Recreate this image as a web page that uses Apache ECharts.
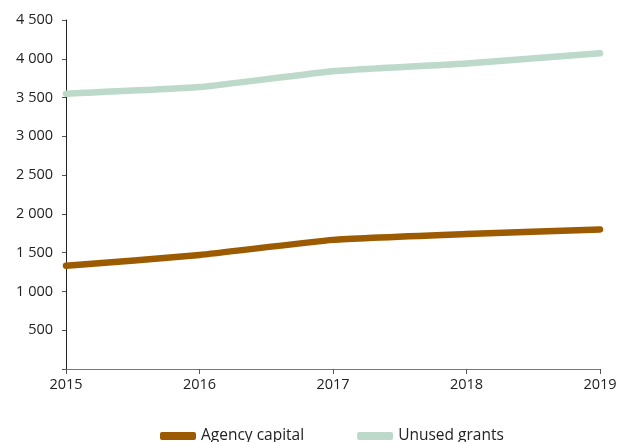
<!DOCTYPE html>
<html><head><meta charset="utf-8">
<script src="https://cdn.jsdelivr.net/npm/echarts@6/dist/echarts.min.js"></script>
<style>html,body{margin:0;padding:0;background:#fff}#c{width:624px;height:442px}</style>
</head><body><div id="c"></div>
<script>
const years = ['2015','2016','2017','2018','2019'];
const agencyCapital = [1330, 1470, 1665, 1740, 1800];
const unusedGrants = [3550, 3635, 3840, 3940, 4070];
const yTicks = [0, 500, 1000, 1500, 2000, 2500, 3000, 3500, 4000, 4500];

const chart = echarts.init(document.getElementById('c'));
const font = '"Open Sans", "Noto Sans", sans-serif';
chart.setOption({
  animation: false,
  textStyle: { fontFamily: font },
  grid: { left: 66, right: 24, top: 20, bottom: 73, containLabel: false },
  legend: {
    top: 423, left: 155,
    itemWidth: 36, itemHeight: 8, itemGap: 53,
    icon: 'roundRect',
    textStyle: { fontSize: 15.5, color: '#222', fontFamily: font, padding: [0, 0, 0, 0] },
    data: ['Agency capital', 'Unused grants']
  },
  xAxis: {
    type: 'category', data: years, boundaryGap: false,
    axisLine: { lineStyle: { color: '#777', width: 1 } },
    axisTick: { length: 5, lineStyle: { color: '#555' } },
    axisLabel: { fontSize: 14.5, color: '#222', margin: 8, fontFamily: font }
  },
  yAxis: {
    type: 'value', min: yTicks[0], max: yTicks[yTicks.length - 1], interval: 500,
    axisLine: { show: true, lineStyle: { color: '#222', width: 1 } },
    axisTick: { show: true, length: 4, lineStyle: { color: '#555' } },
    splitLine: { show: false },
    axisLabel: {
      fontSize: 14.5, color: '#222', margin: 13, fontFamily: font,
      formatter: v => v === 0 ? '' : String(v).replace(/\B(?=(\d{3})+(?!\d))/g, ' ')
    }
  },
  series: [
    { name: 'Agency capital', type: 'line', data: agencyCapital, symbol: 'none',
      smooth: 0.15,
      lineStyle: { color: '#9C5B00', width: 6.5, cap: 'round', join: 'round' },
      itemStyle: { color: '#9C5B00' } },
    { name: 'Unused grants', type: 'line', data: unusedGrants, symbol: 'none',
      smooth: 0.15,
      lineStyle: { color: '#BCD9CA', width: 6.5, cap: 'round', join: 'round' },
      itemStyle: { color: '#BCD9CA' } }
  ]
});
</script></body></html>
